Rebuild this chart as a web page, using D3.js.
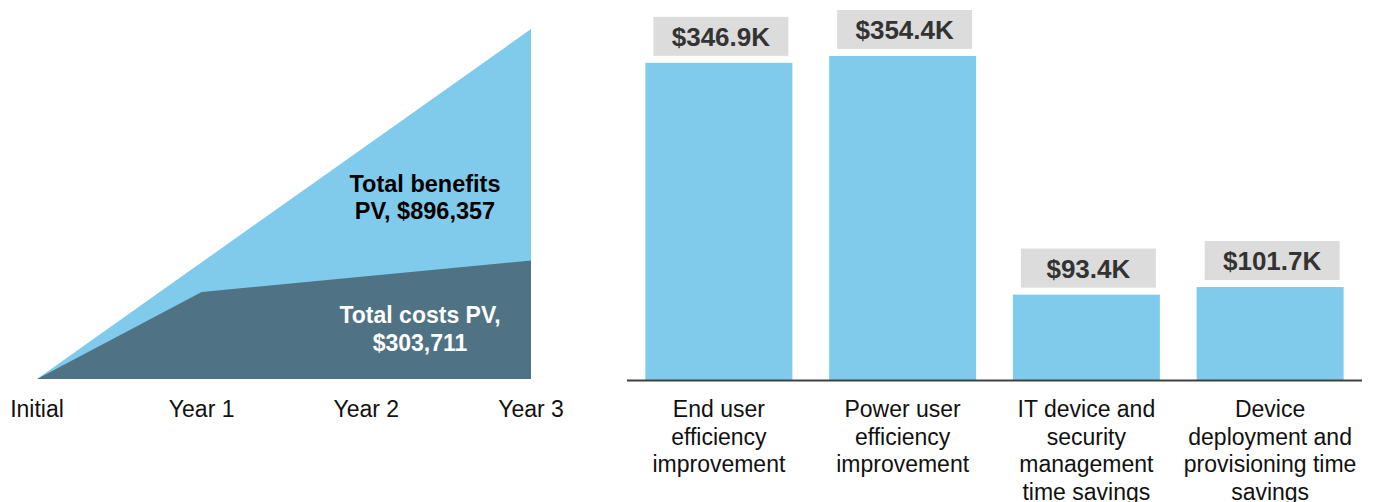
<!DOCTYPE html>
<html>
<head>
<meta charset="utf-8">
<script src="https://cdn.jsdelivr.net/npm/d3@7"></script>
<style>
  body { margin: 0; background: #fff; }
  svg { display: block; font-family: "Liberation Sans", Arial, sans-serif; }
</style>
</head>
<body>
<svg id="chart" width="1375" height="502"></svg>
<script>
// left: cumulative benefits vs costs
const periods = ["Initial", "Year 1", "Year 2", "Year 3"];
const benefits = [0, 298786, 597571, 896357];
const costs = [0, 223000, 263000, 303711];

// right: benefit breakdown (in $K)
const categories = [
  ["End user", "efficiency", "improvement"],
  ["Power user", "efficiency", "improvement"],
  ["IT device and", "security", "management", "time savings"],
  ["Device", "deployment and", "provisioning time", "savings"]
];
const values = [346.9, 354.4, 93.4, 101.7];

const svg = d3.select("#chart");
const lightBlue = "#80cbec";
const slate = "#4f7384";

// ---- area chart ----
const x = d3.scalePoint().domain(periods).range([37, 531]);
const y = d3.scaleLinear().domain([0, 896357]).range([379, 29]);

const area = vals => d3.area()
  .x((d, i) => x(periods[i]))
  .y0(y(0))
  .y1(d => y(d))(vals);

svg.append("path").attr("d", area(benefits)).attr("fill", lightBlue);
svg.append("path").attr("d", area(costs)).attr("fill", slate);

svg.append("g")
  .selectAll("text")
  .data(periods)
  .join("text")
  .attr("x", d => x(d))
  .attr("y", 417)
  .attr("text-anchor", "middle")
  .style("font-size", "23px")
  .attr("fill", "#111")
  .text(d => d);

const benLabel = svg.append("text")
  .attr("text-anchor", "middle")
  .style("font-size", "23.5px")
  .style("font-weight", "bold")
  .attr("fill", "#000");
benLabel.append("tspan").attr("x", 425).attr("y", 192).text("Total benefits");
benLabel.append("tspan").attr("x", 425).attr("y", 219).text("PV, $896,357");

const costLabel = svg.append("text")
  .attr("text-anchor", "middle")
  .style("font-size", "23px")
  .style("font-weight", "bold")
  .attr("fill", "#fff");
costLabel.append("tspan").attr("x", 420).attr("y", 323).text("Total costs PV,");
costLabel.append("tspan").attr("x", 420).attr("y", 351).text("$303,711");

// ---- bar chart ----
const xb = d3.scaleBand().domain(d3.range(values.length)).range([627, 1362])
  .paddingInner(0.2).paddingOuter(0.1);
const yb = d3.scaleLinear().domain([0, 354.4]).range([380, 56]);

svg.append("g")
  .selectAll("rect")
  .data(values)
  .join("rect")
  .attr("x", (d, i) => xb(i))
  .attr("y", d => yb(d))
  .attr("width", xb.bandwidth())
  .attr("height", d => yb(0) - yb(d))
  .attr("fill", lightBlue);

svg.append("line")
  .attr("x1", 627).attr("x2", 1362)
  .attr("y1", yb(0) + 0.5).attr("y2", yb(0) + 0.5)
  .attr("stroke", "#404040").attr("stroke-width", 2);

const lbl = svg.append("g")
  .selectAll("g")
  .data(values)
  .join("g")
  .attr("transform", (d, i) => `translate(${xb(i) + xb.bandwidth() / 2 + 2},${yb(d) - 7})`);

lbl.append("rect")
  .attr("x", -67.5).attr("y", -39)
  .attr("width", 135).attr("height", 39)
  .attr("fill", "#dcdcdc");

lbl.append("text")
  .attr("text-anchor", "middle")
  .attr("y", -10)
  .style("font-size", "26px")
  .style("font-weight", "bold")
  .attr("fill", "#333")
  .text(d => `$${d.toFixed(1)}K`);

const cat = svg.append("g")
  .selectAll("text")
  .data(categories)
  .join("text")
  .attr("text-anchor", "middle")
  .style("font-size", "23px")
  .attr("fill", "#111");

cat.each(function(lines, i) {
  d3.select(this).selectAll("tspan")
    .data(lines)
    .join("tspan")
    .attr("x", xb(i) + xb.bandwidth() / 2)
    .attr("y", (d, j) => 417 + j * 27.5)
    .text(d => d);
});
</script>
</body>
</html>
